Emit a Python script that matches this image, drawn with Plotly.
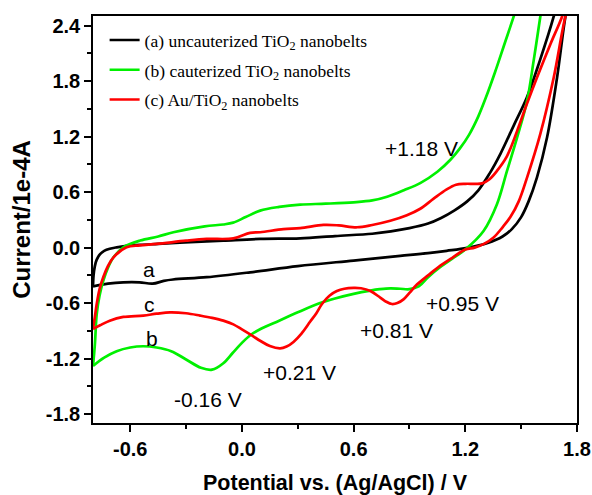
import plotly.graph_objects as go

# Cyclic voltammograms: forward (anodic) sweep and reverse (cathodic) sweep for each sample
a_fwd_x = [-0.80, -0.797, -0.79, -0.78, -0.762, -0.74, -0.71, -0.673, -0.62, -0.547, -0.45, -0.278, -0.10, 0.098,
           0.313, 0.50, 0.70, 0.80, 0.90, 1.00, 1.07, 1.14, 1.21, 1.27, 1.33, 1.39, 1.46, 1.53, 1.60, 1.675, 1.70]
a_fwd_y = [-0.42, -0.30, -0.20, -0.13, -0.07, -0.035, -0.012, 0.003, 0.018, 0.03, 0.04, 0.058, 0.075, 0.094,
           0.10, 0.125, 0.15, 0.175, 0.21, 0.26, 0.32, 0.40, 0.50, 0.62, 0.80, 1.02, 1.32, 1.62, 2.02, 2.5, 2.7]
a_rev_x = [1.76, 1.738, 1.693, 1.639, 1.585, 1.54, 1.50, 1.45, 1.40, 1.32, 1.21, 1.10, 1.00, 0.85, 0.60, 0.30,
           0.044, -0.189, -0.37, -0.42, -0.48, -0.55, -0.637, -0.72, -0.80]
a_rev_y = [2.7, 2.5, 1.84, 1.19, 0.76, 0.50, 0.33, 0.20, 0.12, 0.05, -0.003, -0.035, -0.06, -0.09, -0.14, -0.20,
           -0.267, -0.32, -0.345, -0.36, -0.39, -0.375, -0.375, -0.39, -0.42]

b_fwd_x = [-0.80, -0.79, -0.78, -0.765, -0.745, -0.72, -0.69, -0.637, -0.547, -0.45, -0.368, -0.20, -0.10, -0.047,
           0.02, 0.098, 0.20, 0.313, 0.45, 0.60, 0.70, 0.78, 0.87, 0.96, 1.05, 1.12, 1.17, 1.22, 1.27, 1.31, 1.36,
           1.41, 1.46, 1.49]
b_fwd_y = [-1.28, -1.05, -0.72, -0.52, -0.36, -0.22, -0.105, 0.003, 0.076, 0.12, 0.166, 0.23, 0.25, 0.27,
           0.33, 0.40, 0.44, 0.465, 0.475, 0.49, 0.51, 0.55, 0.62, 0.70, 0.82, 0.95, 1.07, 1.22, 1.42, 1.62, 1.90,
           2.20, 2.5, 2.7]
b_rev_x = [1.625, 1.603, 1.567, 1.532, 1.478, 1.424, 1.37, 1.298, 1.20, 1.13, 1.066, 1.00, 0.95, 0.90, 0.85,
           0.797, 0.74, 0.69, 0.60, 0.50, 0.42, 0.30, 0.20, 0.10, 0.05, 0.0, -0.05, -0.10, -0.16, -0.22, -0.30,
           -0.38, -0.458, -0.53, -0.60, -0.673, -0.74, -0.80]
b_rev_y = [2.8, 2.5, 2.02, 1.59, 1.19, 0.83, 0.47, 0.18, -0.02, -0.12, -0.21, -0.32, -0.42, -0.45, -0.445,
           -0.44, -0.45, -0.465, -0.50, -0.55, -0.60, -0.70, -0.79, -0.88, -0.94, -1.03, -1.14, -1.25, -1.32, -1.30,
           -1.21, -1.12, -1.08, -1.067, -1.08, -1.12, -1.19, -1.28]

c_fwd_x = [-0.80, -0.79, -0.78, -0.765, -0.745, -0.72, -0.69, -0.62, -0.55, -0.458, -0.30, -0.19, -0.046, 0.044,
           0.098, 0.223, 0.313, 0.438, 0.52, 0.618, 0.70, 0.797, 0.886, 0.958, 1.03, 1.10, 1.15, 1.20, 1.25, 1.29,
           1.33, 1.37, 1.424, 1.478, 1.53, 1.585, 1.657, 1.72, 1.75]
c_fwd_y = [-0.88, -0.75, -0.61, -0.45, -0.32, -0.20, -0.105, 0.003, 0.025, 0.04, 0.075, 0.094, 0.10, 0.16,
           0.166, 0.20, 0.21, 0.245, 0.24, 0.22, 0.245, 0.29, 0.35, 0.42, 0.53, 0.63, 0.68, 0.69, 0.69, 0.695,
           0.74, 0.83, 0.99, 1.26, 1.55, 1.84, 2.2, 2.5, 2.7]
c_rev_x = [1.77, 1.738, 1.675, 1.603, 1.532, 1.487, 1.442, 1.40, 1.352, 1.30, 1.25, 1.20, 1.13, 1.066, 1.00,
           0.94, 0.90, 0.868, 0.835, 0.806, 0.775, 0.743, 0.69, 0.64, 0.60, 0.55, 0.51, 0.47, 0.43, 0.40, 0.367,
           0.32, 0.277, 0.24, 0.205, 0.15, 0.10, 0.053, 0.0, -0.046, -0.10, -0.16, -0.225, -0.30, -0.386, -0.458,
           -0.53, -0.637, -0.71, -0.762, -0.80]
c_rev_y = [2.7, 2.5, 1.84, 1.23, 0.76, 0.50, 0.33, 0.22, 0.11, 0.04, 0.0, -0.02, -0.11, -0.195, -0.30,
           -0.40, -0.49, -0.56, -0.60, -0.61, -0.585, -0.54, -0.47, -0.44, -0.436, -0.445, -0.47, -0.52, -0.61,
           -0.71, -0.80, -0.93, -1.02, -1.07, -1.09, -1.065, -1.01, -0.95, -0.885, -0.83, -0.79, -0.76, -0.735,
           -0.71, -0.70, -0.715, -0.735, -0.75, -0.79, -0.84, -0.88]

series_names = ["(a) uncauterized TiO<sub>2</sub> nanobelts",
                "(b) cauterized TiO<sub>2</sub> nanobelts",
                "(c) Au/TiO<sub>2</sub> nanobelts"]
series_colors = ["#000000", "#00f000", "#ff0000"]

x_ticks = [-0.6, 0.0, 0.6, 1.2, 1.8]
x_ticktext = ["-0.6", "0.0", "0.6", "1.2", "1.8"]
x_minor = [-0.3, 0.3, 0.9, 1.5]
y_ticks = [-1.8, -1.2, -0.6, 0.0, 0.6, 1.2, 1.8, 2.4]
y_ticktext = ["-1.8", "-1.2", "-0.6", "0.0", "0.6", "1.2", "1.8", "2.4"]
y_minor = [-1.5, -0.9, -0.3, 0.3, 0.9, 1.5, 2.1]

# peak labels and curve letters (text, x, y)
peak_labels = [("+1.18 V", 0.963, 1.07), ("-0.16 V", -0.182, -1.64), ("+0.21 V", 0.308, -1.35),
               ("+0.81 V", 0.833, -0.895), ("+0.95 V", 1.187, -0.60)]
curve_letters = [("a", -0.499, -0.24), ("c", -0.499, -0.62), ("b", -0.483, -0.98)]

fig = go.Figure()
curves = [(a_fwd_x, a_fwd_y, a_rev_x, a_rev_y), (b_fwd_x, b_fwd_y, b_rev_x, b_rev_y),
          (c_fwd_x, c_fwd_y, c_rev_x, c_rev_y)]
for i, (fx, fy, rx, ry) in enumerate(curves):
    fig.add_trace(go.Scatter(
        x=fx + [None] + rx, y=fy + [None] + ry, mode="lines",
        line=dict(color=series_colors[i], width=2.7, shape="spline", smoothing=1.0),
        name=series_names[i], legendgroup=f"g{i}", connectgaps=False,
    ))

for txt, x, y in peak_labels + curve_letters:
    fig.add_annotation(x=x, y=y, text=txt, showarrow=False, xanchor="center", yanchor="middle",
                       font=dict(family="Liberation Sans, Arial", size=21, color="#000000"))

axis_common = dict(showline=True, linewidth=1.6, linecolor="#000000", mirror=True, ticks="outside",
                   ticklen=7, tickwidth=1.5, tickcolor="#000000", showgrid=False, zeroline=False,
                   tickfont=dict(family="Liberation Sans, Arial", size=20, color="#000000", weight="bold"))

fig.update_xaxes(range=[-0.8, 1.8], tickvals=x_ticks, ticktext=x_ticktext, automargin=False,
                 minor=dict(tickvals=x_minor, ticklen=4, tickwidth=1.5, tickcolor="#000000", ticks="outside"),
                 title=dict(text="Potential vs. (Ag/AgCl) / V", standoff=28,
                            font=dict(family="Liberation Sans, Arial", size=21.5, color="#000000", weight="bold")),
                 **axis_common)
fig.update_yaxes(range=[-1.897, 2.505], tickvals=y_ticks, ticktext=y_ticktext,
                 minor=dict(tickvals=y_minor, ticklen=4, tickwidth=1.5, tickcolor="#000000", ticks="outside"),
                 title=dict(text="Current/1e-4A", standoff=8,
                            font=dict(family="Liberation Sans, Arial", size=24, color="#000000", weight="bold")),
                 **axis_common)

fig.update_layout(
    width=592, height=495,
    margin=dict(l=93, r=15, t=16, b=72),
    paper_bgcolor="#ffffff", plot_bgcolor="#ffffff",
    showlegend=True,
    legend=dict(x=0.024, y=0.985, xanchor="left", yanchor="top", bgcolor="rgba(0,0,0,0)",
                font=dict(family="Liberation Serif, Times New Roman", size=17.5, color="#000000"),
                tracegroupgap=4, itemwidth=30),
)

fig.write_html("out.html")
